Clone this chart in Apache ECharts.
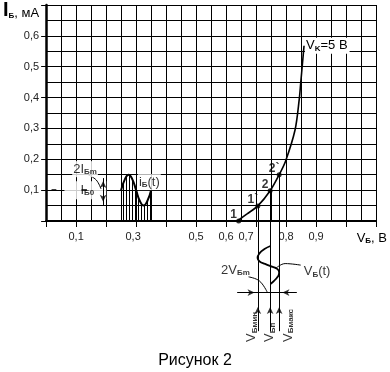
<!DOCTYPE html>
<html><head><meta charset="utf-8">
<script src="https://cdn.jsdelivr.net/npm/echarts@6/dist/echarts.min.js"></script>
<style>html,body{margin:0;padding:0;background:#fff}#c{width:390px;height:372px}</style>
</head><body><div id="c"></div>
<script>
const FONT = '"Liberation Sans", Arial, sans-serif';

// ---- tick labels ----
const xTickValues = [0.1, 0.3, 0.5, 0.6, 0.7, 0.8, 0.9];
const xTickLabels = ['0,1', '0,3', '0,5', '0,6', '0,7', '0,8', '0,9'];
const yTickValues = [0.1, 0.2, 0.3, 0.4, 0.5, 0.6];
const yTickLabels = ['0,1', '0,2', '0,3', '0,4', '0,5', '0,6'];

// ---- input characteristic, V_K = 5 V ----
const curveV = [0.638, 0.670, 0.706, 0.747, 0.777, 0.798, 0.830, 0.844, 0.849, 0.855, 0.860];
const curveI = [0.000, 0.023, 0.049, 0.098, 0.150, 0.193, 0.295, 0.394, 0.448, 0.513, 0.568];

// ---- working points ----
const pointV = [0.642, 0.706, 0.747, 0.777];
const pointI = [0.000, 0.049, 0.098, 0.150];
const pointNames = ['1', '1`', '2', '2`'];

// ---- base current waveform i_B(t) ----
const iWaveT = [0.25, 0.2625, 0.275, 0.2875, 0.30, 0.3125, 0.325, 0.3375, 0.35];
const iWaveI = [0.10, 0.135, 0.150, 0.135, 0.10, 0.065, 0.050, 0.065, 0.10];

// ---- base voltage waveform V_B(t), time running downward ----
const vWaveV = [0.748, 0.728, 0.712, 0.705, 0.712, 0.730, 0.748, 0.765, 0.775, 0.777, 0.772, 0.760, 0.748];
const vWaveT = [-0.081, -0.091, -0.104, -0.120, -0.131, -0.139, -0.146, -0.152, -0.160, -0.168, -0.181, -0.194, -0.204];

// ---- quiescent / amplitude values ----
const IB0 = 0.1;
const VBmin = pointV[1], VBp = pointV[2], VBmax = pointV[3];

const pairs = (xs, ys) => xs.map((x, i) => [x, ys[i]]);
const key = v => Math.round(v * 100);

const hatch = (() => {
  const c = document.createElement('canvas');
  c.width = 3; c.height = 4;
  const g = c.getContext('2d');
  g.fillStyle = '#000'; g.fillRect(0, 0, 1, 4);
  return c;
})();

const textRich = {
  m: { fontSize: 13, lineHeight: 14, fontFamily: FONT, color: '#000' },
  s: { fontSize: 8, lineHeight: 6, fontWeight: 'bold', verticalAlign: 'bottom', fontFamily: FONT, color: '#000' }
};

const DROP_END = -0.357;
const DIM_Y = -0.232;
const LABEL_Y = -0.392;

const segments = [
  [[iWaveT[0], 0], [iWaveT[0], iWaveI[0]]],
  [[iWaveT[iWaveT.length - 1], iWaveI[iWaveI.length - 1]], [iWaveT[iWaveT.length - 1], 0]],
  [[VBmin, pointI[1]], [VBmin, DROP_END]],
  [[VBp, pointI[2]], [VBp, DROP_END]],
  [[VBmax, pointI[3]], [VBmax, DROP_END]],
  [[0.637, DIM_Y], [0.836, DIM_Y]],
  [[0.190, 0.052], [0.190, 0.139]]
];
const dashes = [
  [[0.018, IB0], [0.034, IB0]],
  [[0.118, IB0], [0.136, IB0]]
];

const arrows = [
  { value: [0.695, DIM_Y], symbolRotate: -90 },
  { value: [0.788, DIM_Y], symbolRotate: 90 },
  { value: [VBmin, -0.279], symbolRotate: 0 },
  { value: [VBp, -0.279], symbolRotate: 0 },
  { value: [VBmax, -0.279], symbolRotate: 0 },
  { value: [0.190, 0.130], symbolRotate: 0 },
  { value: [0.190, 0.062], symbolRotate: 180 }
];

const leaders = [
  [[0.675, -0.181], [0.711, -0.194], [0.737, -0.230]],
  [[0.849, -0.143], [0.797, -0.138], [0.765, -0.154]],
  [[0.141, 0.149], [0.167, 0.133], [0.183, 0.104]]
];

const notes = [
  { value: [0.679, -0.159], text: '{m|2V}{s|Бm}', align: 'right', bg: null },
  { value: [0.859, -0.165], text: '{m|V}{s|Б}{m|(t)}', align: 'left', bg: null },
  { value: [0.087, 0.168], text: '{m|2I}{s|Бm}', align: 'left', bg: [1, 1, 1, 1] },
  { value: [0.306, 0.126], text: '{m|i}{s|Б}{m|(t)}', align: 'left', bg: [1, 1, 1, 1] }
];
const rotNotes = [
  { value: [0.685, LABEL_Y], text: '{m|V}{s|Бмин}' },
  { value: [0.746, LABEL_Y], text: '{m|V}{s|Бп}' },
  { value: [0.807, LABEL_Y], text: '{m|V}{s|Бмакс}' }
];

const series = [];
// hatched i_B(t)
series.push({
  type: 'line', data: pairs(iWaveT, iWaveI), smooth: 0.5, symbol: 'none',
  lineStyle: { color: '#000', width: 2 },
  areaStyle: { color: { image: hatch, repeat: 'repeat' }, opacity: 1, origin: 'start' },
  z: 3, silent: true
});
// main curve
series.push({
  type: 'line', smooth: 0.3, symbol: 'none', clip: false,
  data: pairs(curveV, curveI),
  endLabel: {
    show: true, distance: 1, formatter: '{m|V}{s|K}{m|=5 В}', rich: textRich,
    backgroundColor: '#fff', padding: [1, 2, 1, 1]
  },
  lineStyle: { color: '#000', width: 1.6 }, z: 4, silent: true
});
// points
series.push({
  type: 'scatter', symbolSize: 5, itemStyle: { color: '#000' }, z: 5, silent: true,
  data: pointV.map((v, i) => ({ value: [v, pointI[i]], name: pointNames[i] })),
  label: {
    show: true, position: 'top', distance: 2, offset: [-5, 4],
    formatter: p => p.name, fontSize: 12, fontWeight: 'bold', fontFamily: FONT, color: '#000'
  }
});
// V_B(t)
series.push({
  type: 'line', data: pairs(vWaveV, vWaveT), smooth: 0.5, symbol: 'none', clip: false,
  lineStyle: { color: '#000', width: 1.8 }, z: 4, silent: true
});
// straight segments
series.push({
  type: 'lines', coordinateSystem: 'cartesian2d', clip: false, silent: true, z: 4,
  data: segments.map(c => ({ coords: c })),
  lineStyle: { color: '#000', width: 1, opacity: 1, curveness: 0 }
});
series.push({
  type: 'lines', coordinateSystem: 'cartesian2d', clip: false, silent: true, z: 10,
  data: dashes.map(c => ({ coords: c })),
  lineStyle: { color: '#000', width: 1.5, opacity: 1, curveness: 0 }
});
// leaders
leaders.forEach(l => series.push({
  type: 'line', data: l, smooth: 0.4, symbol: 'none', clip: false,
  lineStyle: { color: '#000', width: 1 }, z: 4, silent: true
}));
// arrows
series.push({
  type: 'scatter', symbol: 'arrow', symbolSize: [5, 7], clip: false, silent: true, z: 5,
  itemStyle: { color: '#000' }, data: arrows
});
// I_B0 label with white background (under the dashes)
series.push({
  type: 'scatter', symbolSize: 0, clip: false, silent: true, z: 2,
  data: [{
    value: [0.061, IB0],
    label: {
      show: true, position: 'inside', align: 'left', verticalAlign: 'middle',
      formatter: '{m|I}{s|Б0}', rich: textRich, backgroundColor: '#fff', padding: [2, 12, 2, 16]
    }
  }]
});
// notes
series.push({
  type: 'scatter', symbolSize: 0, clip: false, silent: true, z: 6,
  data: notes.map(n => ({
    value: n.value,
    label: Object.assign({
      show: true, position: 'inside', align: n.align, verticalAlign: 'middle', formatter: n.text, rich: textRich
    }, n.bg ? { backgroundColor: '#fff', padding: n.bg } : {})
  }))
});
series.push({
  type: 'scatter', symbolSize: 0, clip: false, silent: true, z: 6,
  data: rotNotes.map(n => ({
    value: n.value,
    label: { show: true, position: 'inside', align: 'left', verticalAlign: 'middle', rotate: 90, formatter: n.text, rich: textRich }
  }))
});

const gridLine = { show: true, lineStyle: { color: '#000', width: 1 } };

const option = {
  animation: false,
  backgroundColor: '#fff',
  title: {
    text: 'Рисунок 2', left: 'center', top: 348,
    textStyle: { fontSize: 16, fontWeight: 'normal', fontFamily: FONT, color: '#000' }
  },
  grid: { left: 36, right: 12, top: 5, bottom: 151 },
  xAxis: {
    type: 'value', min: 0, max: 1.1, interval: 0.1,
    name: '{m|V}{s|Б}{m|, В}', nameLocation: 'end', nameGap: 11,
    nameTextStyle: { align: 'right', verticalAlign: 'top', padding: [10, 0, 0, 0], rich: textRich },
    axisLine: { show: true, onZero: false, lineStyle: { color: '#000', width: 2 } },
    axisTick: { show: true, length: 6, lineStyle: { color: '#000' } },
    axisLabel: {
      margin: 10, fontSize: 11, fontFamily: FONT, color: '#222',
      formatter: v => {
        const i = xTickValues.findIndex(t => key(t) === key(v));
        if (i < 0) return '';
        const k = key(v);
        const sty = k === 30 ? 'a' : (k === 70 ? 'b' : 'n');
        return '{' + sty + '|' + xTickLabels[i] + '}';
      },
      rich: {
        n: { fontSize: 11, fontFamily: FONT, color: '#222' },
        a: { fontSize: 11, fontFamily: FONT, color: '#222', padding: [0, 6, 0, 0] },
        b: { fontSize: 11, fontFamily: FONT, color: '#222', padding: [0, 20, 0, 0] }
      }
    },
    splitLine: gridLine,
    minorTick: { show: false, splitNumber: 2 },
    minorSplitLine: gridLine
  },
  yAxis: {
    type: 'value', min: 0, max: 0.7, interval: 0.1,
    name: '{I|I}{s|Б}{t|, мА}', nameLocation: 'end', nameGap: -5,
    nameTextStyle: {
      align: 'right', verticalAlign: 'middle', padding: [0, 7, 0, 0],
      rich: {
        I: { fontSize: 20, fontWeight: 'bold', lineHeight: 20, fontFamily: FONT, color: '#000' },
        s: { fontSize: 8, fontWeight: 'bold', lineHeight: 8, verticalAlign: 'bottom', fontFamily: FONT, color: '#000' },
        t: { fontSize: 13, lineHeight: 16, verticalAlign: 'bottom', fontFamily: FONT, color: '#000' }
      }
    },
    axisLine: { show: true, onZero: false, lineStyle: { color: '#000', width: 2.5 } },
    axisTick: { show: true, length: 5, lineStyle: { color: '#000' } },
    axisLabel: {
      margin: 7, fontSize: 11, fontFamily: FONT, color: '#222',
      formatter: v => {
        const i = yTickValues.findIndex(t => key(t) === key(v));
        return i < 0 ? '' : yTickLabels[i];
      }
    },
    splitLine: gridLine,
    minorTick: { show: false, splitNumber: 2 },
    minorSplitLine: gridLine
  },
  series
};

const chart = echarts.init(document.getElementById('c'), null, { renderer: 'canvas' });
chart.setOption(option);
</script>
</body></html>
